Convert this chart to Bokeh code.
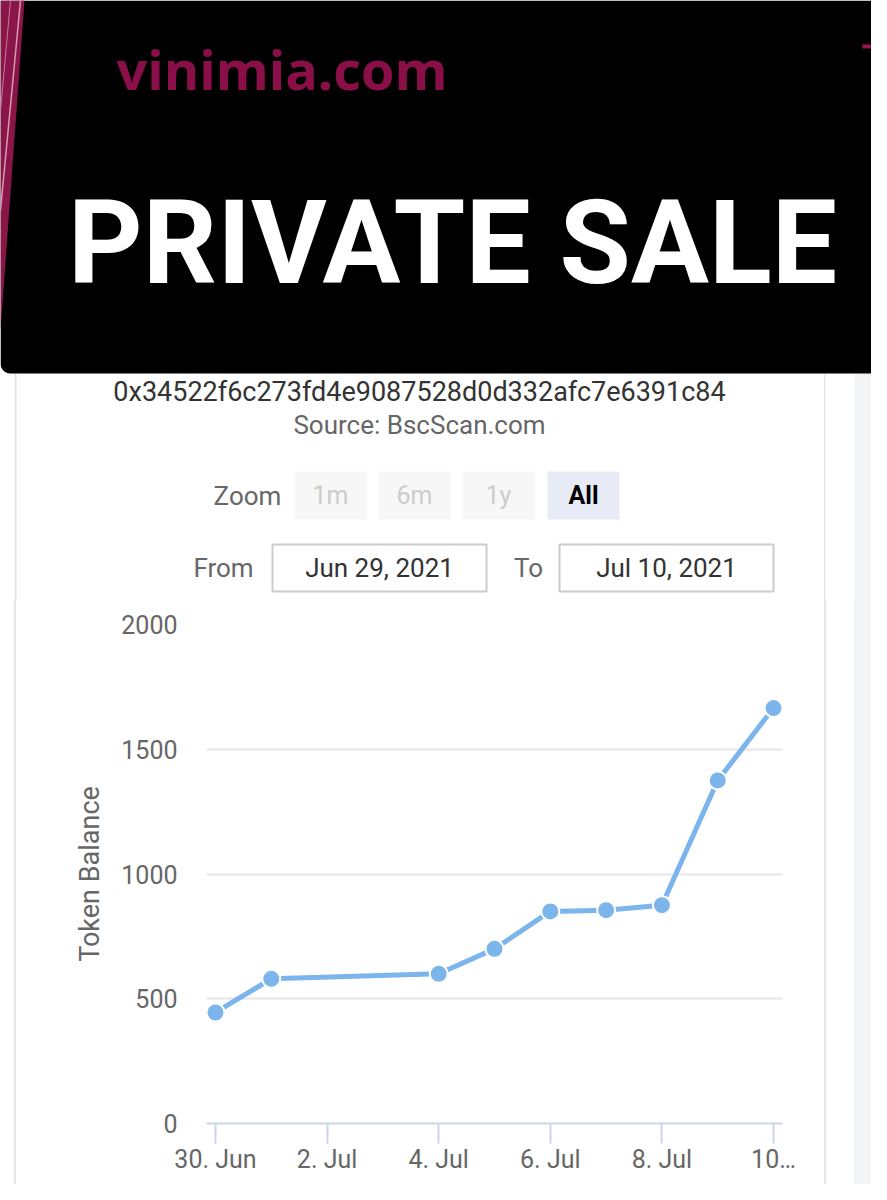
import math
import pandas as pd
from bokeh.plotting import figure
from bokeh.models import Range1d, FixedTicker, Grid, Div
from bokeh.layouts import column, row
from bokeh.core.properties import value
from bokeh.embed import file_html
from bokeh.resources import INLINE

# ---------------- data ----------------
dates = ["2021-06-30", "2021-07-01", "2021-07-04", "2021-07-05", "2021-07-06",
         "2021-07-07", "2021-07-08", "2021-07-09", "2021-07-10"]
balances = [445, 580, 600, 700, 850, 855, 875, 1375, 1665]
tick_dates = ["2021-06-30", "2021-07-02", "2021-07-04", "2021-07-06", "2021-07-08", "2021-07-10"]
tick_labels = ["30. Jun", "2. Jul", "4. Jul", "6. Jul", "8. Jul", "10…"]
y_ticks = [0, 500, 1000, 1500, 2000]
y_axis_title = "Token Balance"
address = "0x34522f6c273fd4e9087528d0d332afc7e6391c84"
source = "Source: BscScan.com"
brand = "vinimia.com"
banner = "PRIVATE SALE"
zoom_label = "Zoom"
zoom_buttons = ["1m", "6m", "1y", "All"]
from_label, to_label = "From", "To"
from_date, to_date = "Jun 29, 2021", "Jul 10, 2021"

# ---------------- helpers ----------------
ROBOTO = value("Roboto")
W_TOTAL, H_TOTAL = 871, 1184
SPLIT = 600
BANNER_B = 373


def deco_fig(x0, x1, y0, y1):
    p = figure(width=x1 - x0, height=y1 - y0,
               x_range=Range1d(x0, x1), y_range=Range1d(y1, y0),
               x_axis_location=None, y_axis_location=None,
               min_border=0, toolbar_location=None, output_backend="svg",
               background_fill_color="white", border_fill_color="white")
    p.outline_line_color = None
    for g in p.select(type=Grid):
        g.visible = False
    return p


def txt(p, x, y, s, size, color, align="center", font=ROBOTO, style="normal"):
    p.text(x=[x], y=[y], text=[s], text_font=font, text_font_size=value(size),
           text_color=color, text_align=align, text_baseline="middle",
           text_font_style=style)


# ---------------- top section ----------------
top = deco_fig(0, W_TOTAL, 0, SPLIT)
# card edges below the banner
top.quad(left=[14], right=[16], top=[BANNER_B - 2], bottom=[SPLIT], fill_color="#e4e6ea", line_color=None)
top.quad(left=[823.5], right=[825], top=[BANNER_B - 2], bottom=[SPLIT], fill_color="#e2e7ee", line_color=None)
top.quad(left=[854], right=[890], top=[BANNER_B - 2], bottom=[SPLIT], fill_color="#f3f4f6", line_color=None)
# banner with rounded bottom corners (one patch, no seams)
R = 10
corner = [(R - R * math.sin(a * math.pi / 36), BANNER_B - R + R * math.cos(a * math.pi / 36))
          for a in range(0, 19)]
bx = [0, 890, 890] + [887 - cx for cx, cy in corner][::-1] + [cx for cx, cy in corner]
by = [0, 0, BANNER_B - R] + [cy for cx, cy in corner][::-1] + [cy for cx, cy in corner]
top.patch(x=bx, y=by, fill_color="black", line_color=None)
top.patch(x=[0, 24, 0], y=[0, 0, 330], fill_color="#8a1549", line_color=None)
top.line(x=[20, 0], y=[0, 210], line_color="#d89ab3", line_width=1.5)
top.line(x=[10, 0], y=[0, 110], line_color="#c9799a", line_width=1)
top.quad(left=[862], right=[890], top=[44], bottom=[48], fill_color="#a0124f", line_color=None)
txt(top, 116, 68, brand, "54px", "#8a0e47", align="left", font=value("Open Sans"), style="bold")
txt(top, 452, 242, banner, "116px", "white", style="bold")

txt(top, 419, 391, address, "27px", "#333333")
txt(top, 419, 424, source, "26px", "#666666")
txt(top, 247, 495, zoom_label, "26px", "#666666")
btn_left = [294, 378, 462, 547]
btn_w = 72
for i, b in enumerate(zoom_buttons):
    sel = (b == "All")
    top.quad(left=[btn_left[i]], right=[btn_left[i] + btn_w], top=[471], bottom=[519],
             fill_color="#e6ebf5" if sel else "#f7f7f7", line_color=None)
    txt(top, btn_left[i] + btn_w / 2, 495, b, "25px", "#000000" if sel else "#cccccc",
        style="bold" if sel else "normal")

txt(top, 223, 567, from_label, "26px", "#666666")
txt(top, 528, 567, to_label, "26px", "#666666")
for (l, r_, s) in [(272, 486, from_date), (559, 773, to_date)]:
    top.quad(left=[l], right=[r_], top=[544], bottom=[591], fill_color="white",
             line_color="#cccccc", line_width=2)
    txt(top, (l + r_) / 2, 567, s, "26px", "#333333")

# ---------------- chart section ----------------
LEFT_STRIP = 70
CHART_R = 824
H_BOTTOM = H_TOTAL - SPLIT

left = Div(text="", width=LEFT_STRIP, height=H_BOTTOM, margin=0,
           styles={"background": "linear-gradient(90deg, #ffffff 0px, #ffffff 14px, "
                                 "#e4e6ea 14px, #e4e6ea 16px, #ffffff 16px)"})
right = Div(text="", width=W_TOTAL - CHART_R, height=H_BOTTOM, margin=0,
            styles={"background": "linear-gradient(90deg, #e2e7ee 0px, #e2e7ee 1.5px, "
                                  "#ffffff 1.5px, #ffffff 30px, #f3f4f6 30px)"})

xs = pd.to_datetime(dates)
tick_ms = [pd.Timestamp(d).value / 1e6 for d in tick_dates]
day = 86400000.0
pad = 0.161 * day
x_start, x_end = tick_ms[0] - pad, tick_ms[-1] + pad

frame_left, frame_right = 206, 782
frame_top, frame_bottom = 624, 1123
chart = figure(width=CHART_R - LEFT_STRIP, height=H_BOTTOM,
               x_axis_type="datetime",
               x_range=Range1d(x_start, x_end), y_range=Range1d(0, 2000),
               min_border_left=frame_left - LEFT_STRIP,
               min_border_right=CHART_R - frame_right,
               min_border_top=frame_top - SPLIT,
               min_border_bottom=H_TOTAL - frame_bottom,
               toolbar_location=None, output_backend="svg",
               background_fill_color="white", border_fill_color="white")
chart.outline_line_color = None
chart.xgrid.visible = False
chart.ygrid.grid_line_color = "#e6e6e6"
chart.ygrid.grid_line_width = 2
chart.ygrid.ticker = FixedTicker(ticks=y_ticks)

ya = chart.yaxis[0]
ya.ticker = FixedTicker(ticks=y_ticks)
ya.axis_line_color = None
ya.major_tick_line_color = None
ya.minor_tick_line_color = None
ya.major_tick_out = 0
ya.major_tick_in = 0
ya.major_label_standoff = 29
ya.major_label_text_font = "Roboto"
ya.major_label_text_font_size = "25px"
ya.major_label_text_color = "#666666"
ya.axis_label = y_axis_title
ya.axis_label_text_font = "Roboto"
ya.axis_label_text_font_size = "27px"
ya.axis_label_text_font_style = "normal"
ya.axis_label_text_color = "#666666"
ya.axis_label_standoff = 12

xa = chart.xaxis[0]
xa.ticker = FixedTicker(ticks=tick_ms)
xa.major_label_overrides = {t: lab for t, lab in zip(tick_ms, tick_labels)}
xa.axis_line_color = "#ccd6eb"
xa.axis_line_width = 2
xa.major_tick_line_color = "#ccd6eb"
xa.major_tick_line_width = 2
xa.major_tick_out = 20
xa.major_tick_in = 0
xa.minor_tick_line_color = None
xa.major_label_standoff = 1
xa.major_label_text_font = "Roboto"
xa.major_label_text_font_size = "25px"
xa.major_label_text_color = "#666666"

chart.line(x=xs, y=balances, line_color="#7cb5ec", line_width=5)
chart.scatter(x=xs, y=balances, size=18, fill_color="#7cb5ec",
              line_color="white", line_width=2)

layout = column(top, row(left, chart, right, spacing=0), spacing=0)

open("out.html", "w").write(file_html(layout, INLINE))
